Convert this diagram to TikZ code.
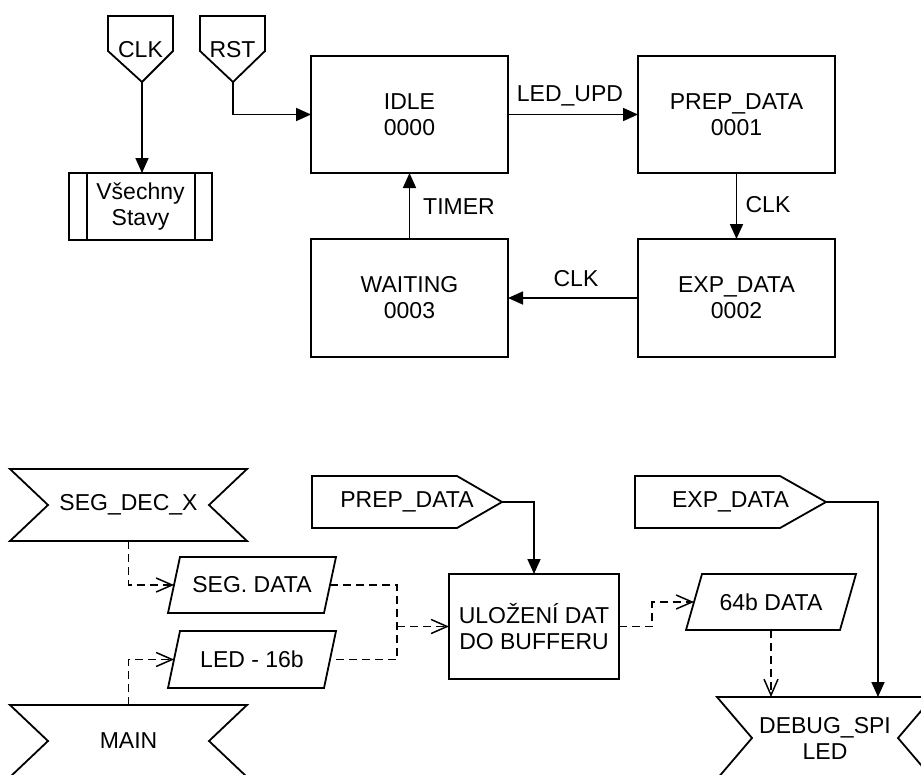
\documentclass[tikz,border=0pt]{standalone}
\usepackage{fontspec}
\setmainfont{Liberation Sans}
\usetikzlibrary{arrows.meta}
\begin{document}
\begin{tikzpicture}[x=1pt,y=-1pt,
  font=\fontsize{23}{26}\selectfont,
  box/.style={draw, line width=1.8pt, minimum width=197pt, minimum height=117pt, align=center, inner sep=0pt, outer sep=0pt},
  hold/.style={inner sep=0pt, outer sep=0pt, align=center},
  outl/.style={draw, line width=1.8pt, line join=miter},
  lbl/.style={inner sep=0pt, outer sep=0pt},
  arr/.style={line width=1.7pt, -{Triangle[length=15pt,width=13pt]}},
  dline/.style={line width=1.7pt, dash pattern=on 8pt off 5pt},
  darr/.style={dline, -{Straight Barb[length=16pt,width=14pt,line width=1.5pt]}}
]
\useasboundingbox (0,0) rectangle (921,774);

% ---------- top part ----------
\coordinate (clktip) at (142,82);
\draw[outl] (108,16) -- (173,16) -- (173,51) -- (clktip) -- (108,51) -- cycle;
\node[lbl] (clk) at (140.5,50) {CLK};

\coordinate (rsttip) at (233,82);
\draw[outl] (200,16) -- (265,16) -- (265,51) -- (rsttip) -- (200,51) -- cycle;
\node[lbl] (rst) at (232.5,50) {RST};

\node[box, minimum width=143pt, minimum height=67pt] (vse) at (140.5,206.5) {Všechny\\Stavy};
\draw[line width=1.8pt] ([xshift=18pt]vse.north west) -- ([xshift=18pt]vse.south west);
\draw[line width=1.8pt] ([xshift=-17pt]vse.north east) -- ([xshift=-17pt]vse.south east);

\node[box] (idle) at (409.5,114.5) {IDLE\\0000};
\node[box] (prep) at (736.5,114.5) {PREP\_DATA\\0001};
\node[box, minimum height=118pt] (wait) at (409.5,298) {WAITING\\0003};
\node[box, minimum height=118pt] (exp) at (736.5,298) {EXP\_DATA\\0002};

\draw[arr] (clktip) -- (clktip |- vse.north);
\draw[arr] (rsttip) |- (idle.west);
\draw[arr] (idle.east) -- (prep.west);
\node[lbl] (lupd) at (570,96) {LED\_UPD};
\draw[arr] (prep.south) -- (exp.north);
\node[lbl] (lclk1) at (768,205) {CLK};
\draw[arr] (exp.west) -- (wait.east);
\node[lbl] (lclk2) at (576,279) {CLK};
\draw[arr] (wait.north) -- (idle.south);
\node[lbl] (ltimer) at (459,207) {TIMER};

% ---------- bottom part ----------
\node[hold, minimum width=237pt, minimum height=72pt] (segdec) at (128.5,505) {SEG\_DEC\_X};
\draw[outl] (segdec.north west) -- (segdec.north east) -- ([xshift=-38pt]segdec.east)
  -- (segdec.south east) -- (segdec.south west) -- ([xshift=38pt]segdec.west) -- cycle;

\node[hold, minimum width=237pt, minimum height=72pt] (main) at (128.5,741) {MAIN};
\draw[outl] (main.north west) -- (main.north east) -- ([xshift=-38pt]main.east)
  -- (main.south east) -- (main.south west) -- ([xshift=38pt]main.west) -- cycle;

\node[hold, minimum width=156pt, minimum height=56pt] (segdata) at (252,585) {SEG. DATA};
\draw[outl] ([xshift=6pt]segdata.north west) -- ([xshift=6pt]segdata.north east)
  -- ([xshift=-6pt]segdata.south east) -- ([xshift=-6pt]segdata.south west) -- cycle;

\node[hold, minimum width=156pt, minimum height=57pt] (led) at (252,659.5) {LED - 16b};
\draw[outl] ([xshift=6pt]led.north west) -- ([xshift=6pt]led.north east)
  -- ([xshift=-6pt]led.south east) -- ([xshift=-6pt]led.south west) -- cycle;

\node[box, minimum width=170pt, minimum height=105pt] (buf) at (534,626.5) {ULOŽENÍ DAT\\DO BUFFERU};

\node[hold, minimum width=190pt, minimum height=52pt] (sprep) at (407,502) {PREP\_DATA};
\draw[outl] (sprep.north west) -- ([xshift=-45pt]sprep.north east) -- (sprep.east)
  -- ([xshift=-45pt]sprep.south east) -- (sprep.south west) -- cycle;

\node[hold, minimum width=191pt, minimum height=52pt] (sexp) at (730.5,502) {EXP\_DATA};
\draw[outl] (sexp.north west) -- ([xshift=-46pt]sexp.north east) -- (sexp.east)
  -- ([xshift=-46pt]sexp.south east) -- (sexp.south west) -- cycle;

\node[hold, minimum width=154pt, minimum height=56pt] (data64) at (771,602) {64b DATA};
\draw[outl] ([xshift=8pt]data64.north west) -- ([xshift=8pt]data64.north east)
  -- ([xshift=-8pt]data64.south east) -- ([xshift=-8pt]data64.south west) -- cycle;

\node[hold, minimum width=216pt, minimum height=82pt] (dbg) at (825,738) {DEBUG\_SPI\\LED};
\draw[outl] (dbg.north west) -- (dbg.north east) -- ([xshift=-35pt]dbg.east)
  -- (dbg.south east) -- (dbg.south west) -- ([xshift=35pt]dbg.west) -- cycle;

\coordinate (join) at (397,626.5);
\draw[darr] (segdec.south) |- (segdata.west);
\draw[darr] (main.north) |- (led.west);
\draw[dline] (segdata.east) -| (join) |- (led.east);
\draw[darr] (join) -- (buf.west);
\draw[arr] (sprep.east) -| (buf.north);
\draw[darr] (buf.east) -- ++(33,0) |- (data64.west);
\draw[darr] (data64.south) -- (data64.south |- dbg.north);
\draw[arr] (sexp.east) -| ([xshift=53pt]dbg.north);
\end{tikzpicture}
\end{document}
